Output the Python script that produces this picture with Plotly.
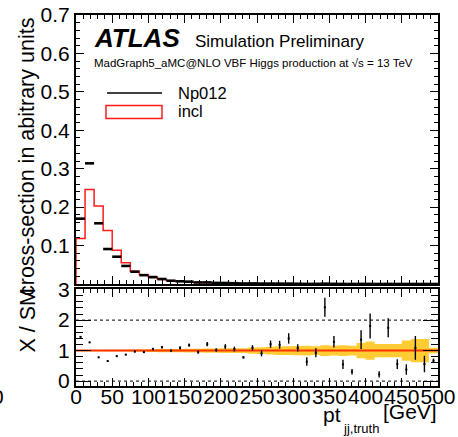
import numpy as np
import plotly.graph_objects as go

# ---------------- data ----------------
bin_width = 12.5
bin_edges = list(np.arange(0, 500 + bin_width, bin_width))
bin_centers = [e + bin_width / 2 for e in bin_edges[:-1]]

incl = [0.1185, 0.246, 0.203, 0.139, 0.088, 0.055, 0.033, 0.024, 0.017, 0.012,
        0.0085, 0.0065, 0.0052, 0.0042, 0.0034, 0.0028, 0.0023, 0.0019, 0.0016, 0.0013,
        0.0011, 0.0009, 0.0008, 0.0007, 0.0006, 0.0005, 0.00042, 0.00036, 0.0003, 0.00025,
        0.0002, 0.00018, 0.00015, 0.00013, 0.00011, 0.0001, 0.00008, 0.00007, 0.00006, 0.00005]

np012 = [0.170, 0.314, 0.158, 0.091, 0.071, 0.047, 0.032, 0.023, 0.018, 0.013,
         0.0085, 0.0071, 0.0061, 0.0040, 0.0041, 0.0029, 0.0026, 0.0020, 0.0012, 0.0014,
         0.0010, 0.0011, 0.0010, 0.0010, 0.00065, 0.00032, 0.00039, 0.00087, 0.00039, 0.00014,
         0.00006, 0.00024, 0.00027, 0.00003, 0.00019, 0.00006, 0.00003, 0.00008, 0.00003, 0.00003]

ratio = [1.45, 1.27, 0.78, 0.66, 0.82, 0.87, 0.97, 0.95, 1.05, 1.11,
         1.00, 1.09, 1.18, 0.95, 1.21, 1.02, 1.13, 1.05, 0.78, 1.09,
         0.91, 1.21, 1.19, 1.40, 1.09, 0.64, 0.93, 2.42, 1.29, 0.55,
         0.31, 1.36, 1.81, 0.22, 1.75, 0.56, 0.38, 1.09, 0.56, 0.67]

ratio_err = [0.02, 0.02, 0.02, 0.02, 0.02, 0.02, 0.03, 0.03, 0.04, 0.04,
             0.04, 0.05, 0.05, 0.05, 0.07, 0.06, 0.08, 0.08, 0.04, 0.09,
             0.10, 0.12, 0.13, 0.17, 0.12, 0.14, 0.15, 0.31, 0.19, 0.15,
             0.09, 0.31, 0.41, 0.10, 0.31, 0.16, 0.17, 0.39, 0.27, 0.07]

band_err = [0.02, 0.02, 0.02, 0.025, 0.03, 0.03, 0.035, 0.04, 0.045, 0.05,
            0.05, 0.055, 0.06, 0.065, 0.07, 0.07, 0.075, 0.075, 0.08, 0.10,
            0.11, 0.13, 0.14, 0.14, 0.15, 0.16, 0.14, 0.18, 0.16, 0.18,
            0.16, 0.25, 0.30, 0.22, 0.22, 0.22, 0.33, 0.38, 0.38, 0.09]

ref_level = 1.0

x_tick_vals = [0, 50, 100, 150, 200, 250, 300, 350, 400, 450, 500]
x_tick_text = ["0", "50", "100", "150", "200", "250", "300", "350", "400", "450", "500"]
y_top_tick_vals = [0.1, 0.2, 0.3, 0.4, 0.5, 0.6, 0.7]
y_top_tick_text = ["0.1", "0.2", "0.3", "0.4", "0.5", "0.6", "0.7"]
y_bot_tick_vals = [0, 1, 2, 3]
y_bot_tick_text = ["0", "1", "2", "3"]

# ---------------- layout geometry ----------------
W, H = 458, 437
ML, MR, MT, MB = 76, 20, 15, 51
PW, PH = W - ML - MR, H - MT - MB


def px_x(p):
    return (p - ML) / PW


def px_y(p):
    return (H - MB - p) / PH


FONT = "Liberation Sans, Arial, Helvetica, sans-serif"
BLACK = "black"
RED = "#ff1a1a"
GOLD = "#ffcc33"

fig = go.Figure()

# incl histogram (step line)
step_x = [bin_edges[0]] + bin_edges
step_y = [0] + incl + [incl[-1]]
fig.add_trace(go.Scatter(x=step_x, y=step_y, mode="lines", line=dict(color=RED, width=1.5, shape="hv"),
                         xaxis="x", yaxis="y", showlegend=False, hoverinfo="skip"))

# Np012: horizontal bars across bins
fig.add_trace(go.Scatter(x=bin_centers, y=np012, mode="markers", marker=dict(size=1, color=BLACK),
                         error_x=dict(type="constant", value=bin_width / 2, width=0, thickness=2.6, color=BLACK),
                         xaxis="x", yaxis="y", showlegend=False, hoverinfo="skip"))

# ratio band
band_lo = [ref_level - e for e in band_err]
band_hi = [ref_level + e for e in band_err]
fig.add_trace(go.Scatter(x=bin_edges, y=band_lo + [band_lo[-1]], mode="lines",
                         line=dict(width=0, shape="hv", color=GOLD),
                         xaxis="x2", yaxis="y2", showlegend=False, hoverinfo="skip"))
fig.add_trace(go.Scatter(x=bin_edges, y=band_hi + [band_hi[-1]], mode="lines", fill="tonexty",
                         fillcolor=GOLD, line=dict(width=0, shape="hv", color=GOLD),
                         xaxis="x2", yaxis="y2", showlegend=False, hoverinfo="skip"))

# reference line at 1
fig.add_trace(go.Scatter(x=[bin_edges[0] - 1.5, bin_edges[-1]], y=[ref_level, ref_level], mode="lines",
                         line=dict(color="#ff3300", width=2), cliponaxis=False,
                         xaxis="x2", yaxis="y2", showlegend=False, hoverinfo="skip"))

# ratio points
fig.add_trace(go.Scatter(x=bin_centers, y=ratio, mode="markers",
                         marker=dict(size=2, color=BLACK, symbol="square"),
                         error_y=dict(type="data", array=ratio_err, width=0, thickness=1.4, color=BLACK),
                         xaxis="x2", yaxis="y2", showlegend=False, hoverinfo="skip"))

axis_common = dict(showgrid=False, zeroline=False, showline=True, linecolor=BLACK, linewidth=2,
                   mirror="allticks", ticks="inside", tickcolor=BLACK, tickwidth=1,
                   automargin=False, tickangle=0,
                   tickfont=dict(family=FONT, size=21, color=BLACK))

fig.update_layout(
    width=W, height=H,
    margin=dict(l=ML, r=MR, t=MT, b=MB),
    paper_bgcolor="white", plot_bgcolor="white",
    xaxis=dict(axis_common, domain=[0, 1], range=[0, 500], anchor="y", showticklabels=False,
               tickvals=x_tick_vals, ticklen=8,
               minor=dict(dtick=10, ticklen=4, ticks="inside", tickcolor=BLACK, tickwidth=1)),
    yaxis=dict(axis_common, domain=[px_y(284), 1], range=[0, 0.7], anchor="x",
               tickvals=y_top_tick_vals, ticktext=y_top_tick_text, ticklen=8,
               minor=dict(dtick=0.02, ticklen=4, ticks="inside", tickcolor=BLACK, tickwidth=1)),
    xaxis2=dict(axis_common, domain=[0, 1], range=[0, 500], anchor="y2",
                tickvals=x_tick_vals, ticktext=x_tick_text, ticklen=8, ticklabelstandoff=-9,
                minor=dict(dtick=10, ticklen=4, ticks="inside", tickcolor=BLACK, tickwidth=1)),
    yaxis2=dict(axis_common, domain=[0, px_y(289)], range=[-0.16, 3.02], anchor="x2",
                tickvals=y_bot_tick_vals, ticktext=y_bot_tick_text, ticklen=15,
                minor=dict(dtick=0.2, ticklen=7, ticks="inside", tickcolor=BLACK, tickwidth=1)),
)

# dotted reference lines at 2 and 0
for lvl in (2, 0):
    fig.add_shape(type="line", xref="x2", yref="y2", x0=0, x1=500, y0=lvl, y1=lvl,
                  line=dict(color=BLACK, width=1, dash="dot"))

# legend (manual)
fig.add_shape(type="line", xref="paper", yref="paper", x0=px_x(107), x1=px_x(162), y0=px_y(93), y1=px_y(93),
              line=dict(color=BLACK, width=1.5))
fig.add_shape(type="rect", xref="paper", yref="paper", x0=px_x(106), x1=px_x(162), y0=px_y(118.5), y1=px_y(105.5),
              line=dict(color=RED, width=1.5), fillcolor="rgba(0,0,0,0)")

ann = []


def add_text(text, xp, yp, size, xanchor="left", yanchor="middle", **kw):
    ann.append(dict(text=text, x=px_x(xp), y=px_y(yp), xref="paper", yref="paper", showarrow=False,
                    xanchor=xanchor, yanchor=yanchor, borderpad=0,
                    font=dict(family=FONT, size=size, color=BLACK), **kw))


add_text("<b><i>ATLAS</i></b>", 93, 38, 26)
add_text("Simulation Preliminary", 194, 41, 17)
add_text("MadGraph5_aMC@NLO VBF Higgs production at √s = 13 TeV", 93, 63, 11.5)
add_text("Np012", 177, 92.5, 16.5)
add_text("incl", 177, 111, 16.5)
# x-axis title: pt_{jj,truth} [GeV]
add_text("[GeV]", 438, 411, 21, xanchor="right")
add_text("pt", 342, 414, 21, xanchor="right")
add_text("jj,truth", 342, 428.5, 13)
add_text("0", -2.5, 396, 21, xanchor="center")
add_text("cross-section in abitrary units", 27, 17, 21.5, xanchor="center", yanchor="top", textangle=-90)
add_text("X / SM", 27, 287, 21.5, xanchor="center", yanchor="top", textangle=-90)

fig.update_layout(annotations=ann)

fig.write_html("out.html")
